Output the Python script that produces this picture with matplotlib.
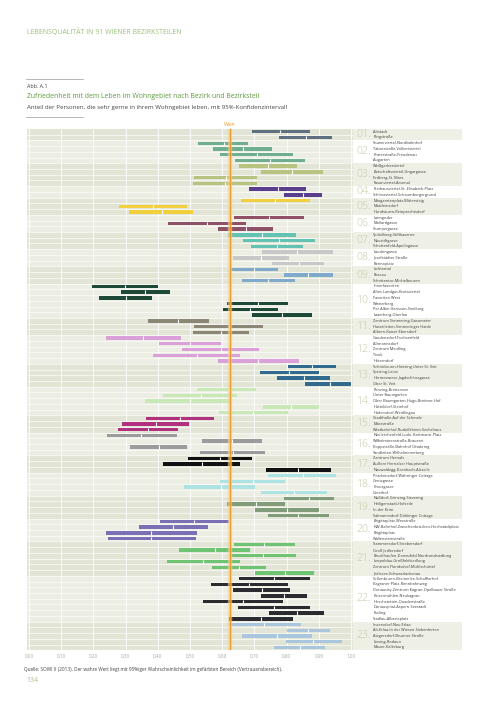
import numpy as np
import matplotlib.pyplot as plt

plt.rcParams['font.family'] = ['Open Sans', 'DejaVu Sans']

# Bezirke und Anzahl der Bezirksteile
districts = ['01', '02', '03', '04', '05', '06', '07', '08', '09', '10', '11', '12',
             '13', '14', '15', '16', '17', '18', '19', '20', '21', '22', '23']
counts = [2, 4, 4, 2, 3, 3, 3, 3, 3, 6, 3, 5, 4, 5, 3, 4, 3, 4, 4, 4, 6, 8, 5]
colors = ['#5f7082', '#6fae8e', '#b7c480', '#5b3f8f', '#f1cf3f', '#8e5165', '#63c3b3',
          '#c8c8c8', '#7faacb', '#1d4a37', '#8b8676', '#dba0da', '#306b8f', '#c9e8b8',
          '#b2317f', '#9b9b9b', '#111111', '#aee3e3', '#809c78', '#7b70b6', '#6fc474',
          '#2b2b30', '#aac6de']

names = [
    'Altstadt', 'Ringstraße',
    'Stuwerviertel-Nordbahnhof', 'Taborstraße-Volkertviertel', 'Praterstraße-Freudenau', 'Augarten',
    'Weißgerberviertel', 'Botschaftsviertel-Ungargasse', 'Erdberg-St. Marx', 'Fasanviertel-Arsenal',
    'Freihausviertel-St.-Elisabeth-Platz', 'Schlossviertel-Schaumburgergrund',
    'Margaretenplatz-Mittersteig', 'Matzleinsdorf', 'Hundsturm-Reinprechtsdorf',
    'Laimgrube', 'Mollardgasse', 'Stumpergasse',
    'Spittelberg-Stiftkaserne', 'Neustiftgasse', 'Schottenfeld-Apollogasse',
    'Laudongasse', 'Josefstädter Straße', 'Bennoplatz',
    'Lichtental', 'Rossau', 'Schottentor-Michelbeuern',
    'Innerfavoriten', 'Altes Landgut-Kretaviertel', 'Favoriten West', 'Wienerberg',
    'Per Albin Hansson-Siedlung', 'Laaerberg-Oberlaa',
    'Zentrum Simmering-Gasometer', 'Hasenleiten-Simmeringer Haide', 'Albern-Kaiser Ebersdorf',
    'Gaudenzdorf-Fuchsenfeld', 'Altmannsdorf', 'Zentrum Meidling', 'Tivoli', 'Hetzendorf',
    'Schönbrunn-Hietzing Unter St. Veit', 'Speising-Lainz', 'Hermeswiese-Jagdschlossgasse', 'Ober St. Veit',
    'Penzing-Breitensee', 'Unter Baumgarten', 'Ober Baumgarten-Hugo-Breitner-Hof',
    'Hütteldorf-Steinhof', 'Hadersdorf-Weidlingau',
    'Stadthalle-Auf der Schmelz', 'Märzstraße', 'Westbahnhof-Rudolfsheim-Sechshaus',
    'Neulerchenfeld-Ludo-Hartmann-Platz', 'Wilhelminenstraße-Brauerei',
    'Koppstraße-Bahnhof Ottakring', 'Sandleiten-Wilhelminenberg',
    'Zentrum Hernals', 'Äußere Hernalser Hauptstraße', 'Neuwaldegg-Dornbach-Alszeile',
    'Pötzleinsdorf-Währinger Cottage', 'Gentzgasse', 'Kreuzgasse', 'Gersthof',
    'Nußdorf-Grinzing-Sievering', 'Heiligenstadt-Hofzeile', 'In der Krim', 'Salmannsdorf-Döblinger Cottage',
    'Brigittaplatz-Wexstraße', 'NW-Bahnhof-Zwischenbrücken-Hochstädtplatz', 'Brigittaplatz', 'Wallensteinstraße',
    'Stammersdorf-Strebersdorf', 'Groß Jedlersdorf', 'Bruckhaufen-Donaufeld-Nordrandsiedlung',
    'Leopoldau-Großfeldsiedlung', 'Zentrum Floridsdorf-Mühlschüttel', 'Jedlesee-Schwarzlackenau',
    'Süßenbrunn-Breitenlee-Schafflerhof', 'Kagraner Platz-Rennbahnweg',
    'Donaucity-Zentrum Kagran-Opelbauer Straße', 'Kaisermühlen-Neukagran', 'Hirschstetten-Quadenstraße',
    'Donauspital-Aspern-Seestadt', 'Essling', 'Stadlau-Albertsplatz',
    'Inzersdorf-Neu Erlaa', 'Alt-Erlaa-In der Wiesen-Siebenhirten', 'Atzgersdorf-Brunner Straße',
    'Liesing-Rodaun', 'Mauer-Kalksburg',
]

# untere Grenze, Schätzwert, obere Grenze
low = [0.692, 0.776,
       0.526, 0.572, 0.593, 0.640,
       0.653, 0.719, 0.513, 0.508,
       0.684, 0.793,
       0.658, 0.281, 0.312,
       0.637, 0.431, 0.588,
       0.618, 0.664, 0.689,
       0.725, 0.635, 0.756,
       0.624, 0.792, 0.660,
       0.195, 0.285, 0.216, 0.616, 0.601, 0.694,
       0.369, 0.513, 0.508,
       0.239, 0.403, 0.475, 0.386, 0.586,
       0.805, 0.717, 0.771, 0.857,
       0.521, 0.417, 0.360, 0.728, 0.590,
       0.363, 0.290, 0.277,
       0.243, 0.538, 0.314, 0.531,
       0.495, 0.417, 0.736,
       0.741, 0.593, 0.482, 0.720,
       0.792, 0.614, 0.702, 0.743,
       0.407, 0.343, 0.239, 0.244,
       0.638, 0.465, 0.626, 0.428, 0.567, 0.703,
       0.651, 0.564, 0.633, 0.719, 0.541, 0.649, 0.746, 0.621,
       0.620, 0.801, 0.660, 0.798, 0.761]
mid = [0.780, 0.859,
       0.604, 0.664, 0.707, 0.748,
       0.743, 0.816, 0.611, 0.609,
       0.772, 0.852,
       0.764, 0.386, 0.412,
       0.744, 0.552, 0.673,
       0.724, 0.775, 0.770,
       0.833, 0.720, 0.837,
       0.700, 0.867, 0.743,
       0.298, 0.361, 0.300, 0.710, 0.686, 0.787,
       0.464, 0.621, 0.595,
       0.354, 0.500, 0.595, 0.521, 0.712,
       0.879, 0.808, 0.854, 0.935,
       0.621, 0.534, 0.500, 0.814, 0.697,
       0.468, 0.393, 0.370,
       0.348, 0.631, 0.403, 0.633,
       0.593, 0.537, 0.836,
       0.850, 0.697, 0.595, 0.823,
       0.869, 0.704, 0.800, 0.836,
       0.512, 0.448, 0.380, 0.380,
       0.731, 0.577, 0.728, 0.541, 0.652, 0.795,
       0.761, 0.684, 0.722, 0.792, 0.666, 0.762, 0.831, 0.719,
       0.731, 0.867, 0.769, 0.883, 0.842]
high = [0.873, 0.942,
        0.681, 0.756, 0.821, 0.857,
        0.833, 0.914, 0.707, 0.707,
        0.860, 0.910,
        0.871, 0.490, 0.510,
        0.854, 0.673, 0.759,
        0.829, 0.888, 0.850,
        0.943, 0.806, 0.917,
        0.774, 0.943, 0.826,
        0.402, 0.438, 0.383, 0.803, 0.772, 0.879,
        0.558, 0.726, 0.682,
        0.472, 0.597, 0.714, 0.655, 0.839,
        0.953, 0.899, 0.936, 1.000,
        0.704, 0.647, 0.626, 0.900, 0.803,
        0.575, 0.497, 0.462,
        0.459, 0.725, 0.492, 0.733,
        0.692, 0.655, 0.937,
        0.953, 0.795, 0.702, 0.924,
        0.947, 0.795, 0.900, 0.932,
        0.620, 0.555, 0.521, 0.518,
        0.827, 0.686, 0.830, 0.655, 0.736, 0.886,
        0.873, 0.805, 0.811, 0.862, 0.790, 0.873, 0.917, 0.819,
        0.845, 0.935, 0.880, 0.973, 0.919]
wien = 0.624
xticks = np.arange(0, 1.01, 0.1)

low = np.array(low)
mid = np.array(mid)
high = np.array(high)
n = len(names)
y = np.arange(n)
grp = np.repeat(np.arange(len(districts)), counts)
row_colors = [colors[g] for g in grp]
starts = np.concatenate([[0], np.cumsum(counts)[:-1]])

W, H = 504, 712
fig = plt.figure(figsize=(W / 100, H / 100), dpi=100)
fig.patch.set_facecolor('white')

top_px, bot_px = 128.9, 650.3
ax = fig.add_axes([27 / W, 1 - bot_px / H, 326 / W, (bot_px - top_px) / H])
ax.set_xlim(-0.006, 1.006)
ax.set_ylim(n - 0.5, -0.5)

# Hintergrundbänder je Bezirk
for i, (s, c) in enumerate(zip(starts, counts)):
    ax.axhspan(s - 0.5, s + c - 0.5, color='#e2e5d6' if i % 2 == 0 else '#eceee4', lw=0, zorder=0)
for yy in y[1:]:
    ax.axhline(yy - 0.5, color='white', lw=0.45, zorder=1)
for v in xticks:
    ax.axvline(v, color='white', lw=0.6, zorder=1)

bh = 0.6
ax.barh(y, mid - low, left=low, height=bh, color=row_colors, lw=0, zorder=3)
ax.barh(y, high - mid, left=mid, height=bh, color=row_colors, lw=0, zorder=3)
ax.vlines(mid, y - bh / 2, y + bh / 2, color='white', lw=0.8, zorder=4)

# Wien-Linie
ax.axvline(wien, color='#f6cf96', lw=3.2, alpha=0.6, zorder=5)
ax.axvline(wien, color='#eb9b2e', lw=0.9, zorder=6)
ax.text(wien, -0.75, 'Wien', ha='center', va='bottom', fontsize=3.6, color='#eb9b2e')

ax.set_xticks(xticks)
ax.set_xticklabels([f'{v:.2f}'.replace('.', ',') for v in xticks], fontsize=3.3, color='#a3a89a')
ax.tick_params(axis='x', length=0, pad=2.5)
ax.set_yticks([])
for sp in ax.spines.values():
    sp.set_visible(False)

# Beschriftungsbereich rechts
lax = fig.add_axes([353 / W, 1 - bot_px / H, 109 / W, (bot_px - top_px) / H])
lax.set_xlim(0, 1)
lax.set_ylim(n - 0.5, -0.5)
lax.axis('off')
for i, (s, c) in enumerate(zip(starts, counts)):
    if i % 2 == 0:
        lax.axhspan(s - 0.5, s + c - 0.5, color='#eef0e6', lw=0, zorder=0)
    lax.text(0.035, s + (c - 1) / 2, districts[i] + '.', fontsize=7.5, color='#c3caa5',
             va='center', ha='left', fontweight='light')
for yy, name in zip(y, names):
    lax.text(0.185, yy, name, fontsize=2.8, color='#3d3d3d', va='center', ha='left')

# Kopf- und Fußtexte
fig.text(27 / W, 1 - 32 / H, 'LEBENSQUALITÄT IN 91 WIENER BEZIRKSTEILEN', fontsize=5.0,
         color='#9cc07c', va='center', ha='left')
fig.add_artist(plt.Line2D([26 / W, 83 / W], [1 - 79 / H, 1 - 79 / H], color='#9a9a9a', lw=0.5))
fig.text(27 / W, 1 - 86 / H, 'Abb. A.1', fontsize=3.9, color='#444444', va='center', ha='left')
fig.text(27 / W, 1 - 96.5 / H, 'Zufriedenheit mit dem Leben im Wohngebiet nach Bezirk und Bezirksteil',
         fontsize=4.95, color='#5e9a3e', va='center', ha='left')
fig.text(27 / W, 1 - 107 / H,
         'Anteil der Personen, die sehr gerne in ihrem Wohngebiet leben, mit 95%-Konfidenzintervall',
         fontsize=4.4, color='#444444', va='center', ha='left')
fig.add_artist(plt.Line2D([26 / W, 83 / W], [1 - 117 / H, 1 - 117 / H], color='#9a9a9a', lw=0.5))
fig.text(24 / W, 1 - 669 / H,
         'Quelle: SOWI II (2013). Der wahre Wert liegt mit 95%iger Wahrscheinlichkeit im gefärbten Bereich (Vertrauensbereich).',
         fontsize=3.4, color='#444444', va='center', ha='left')
fig.text(26 / W, 1 - 681 / H, '134', fontsize=5, color='#b3bd88', va='center', ha='left')

fig.savefig('out.png', dpi=100)
